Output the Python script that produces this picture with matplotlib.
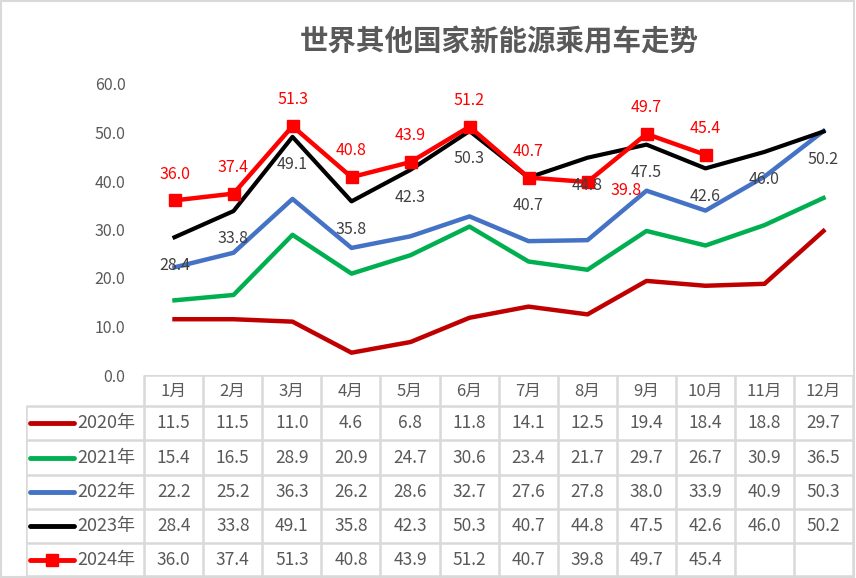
import matplotlib.pyplot as plt
import matplotlib.patches as mpatches
import numpy as np

plt.rcParams['font.family'] = ['Noto Sans CJK SC', 'DejaVu Sans']

# data
months = ["1月", "2月", "3月", "4月", "5月", "6月",
          "7月", "8月", "9月", "10月", "11月", "12月"]
years = ["2020年", "2021年", "2022年", "2023年", "2024年"]
v2020 = [11.5, 11.5, 11.0, 4.6, 6.8, 11.8, 14.1, 12.5, 19.4, 18.4, 18.8, 29.7]
v2021 = [15.4, 16.5, 28.9, 20.9, 24.7, 30.6, 23.4, 21.7, 29.7, 26.7, 30.9, 36.5]
v2022 = [22.2, 25.2, 36.3, 26.2, 28.6, 32.7, 27.6, 27.8, 38.0, 33.9, 40.9, 50.3]
v2023 = [28.4, 33.8, 49.1, 35.8, 42.3, 50.3, 40.7, 44.8, 47.5, 42.6, 46.0, 50.2]
v2024 = [36.0, 37.4, 51.3, 40.8, 43.9, 51.2, 40.7, 39.8, 49.7, 45.4, None, None]
series = [v2020, v2021, v2022, v2023, v2024]
colors = ["#C00000", "#00B050", "#4472C4", "#000000", "#FF0000"]
yticks = [0, 10, 20, 30, 40, 50, 60]

GRAY = "#595959"
GRID = "#D9D9D9"
W, H = 856, 578

fig = plt.figure(figsize=(W / 100, H / 100), dpi=100)


def fx(px):
    return px / W


def fy(py):
    return 1 - py / H


# border around the whole chart
fig.patches.append(mpatches.Rectangle((0.001, 0.001), 0.997, 0.997, transform=fig.transFigure,
                                      fill=False, edgecolor=GRID, linewidth=1.5))

fig.text(fx(499), fy(42), "世界其他国家新能源乘用车走势", ha="center", va="center",
         fontsize=20.5, fontweight="bold", color=GRAY)

# ---- line chart ----
ax = fig.add_axes([fx(145), fy(375), fx(853) - fx(145), fy(84) - fy(375)])
x = np.arange(len(months))
for vals, c, name in zip(series, colors, years):
    y = np.array([np.nan if v is None else v for v in vals])
    if name == "2024年":
        ax.plot(x, y, color=c, lw=3.2, marker="s", ms=9, zorder=5)
    elif name == "2023年":
        ax.plot(x, y, color=c, lw=3.0, zorder=4)
    else:
        ax.plot(x, y, color=c, lw=3.2, zorder=3)

ax.set_xlim(-0.5, len(months) - 0.5)
ax.set_ylim(0, 60)
ax.set_yticks(yticks)
ax.set_yticklabels([f"{t:.1f}" for t in yticks], color=GRAY, fontsize=11.5)
ax.tick_params(axis="y", length=0, pad=14)
ax.set_xticks([])
for s in ["top", "right", "left", "bottom"]:
    ax.spines[s].set_visible(False)
ax.patch.set_alpha(0)

# data labels: 2023 below, 2024 above
for i, v in enumerate(v2023):
    ax.annotate(f"{v:.1f}", (i, v), xytext=(0, -20), textcoords="offset points",
                ha="center", va="center", fontsize=11.5, color="#404040", zorder=6)
for i, v in enumerate(v2024):
    if v is None:
        continue
    off = (28, -6) if months[i] == "8月" else (0, 19)
    ax.annotate(f"{v:.1f}", (i, v), xytext=off, textcoords="offset points",
                ha="center", va="center", fontsize=11.5, color="#FF0000", zorder=7)

# ---- data table ----
tax = fig.add_axes([fx(26), 0, fx(853) - fx(26), fy(375)])
tax.set_xlim(-2.5, len(months) - 0.5)
tax.set_ylim(H, 375)
tax.axis("off")

row_edges = [406, 440, 475, 509, 543, 576]
lk = dict(color=GRID, lw=1.8, solid_capstyle="butt")
tax.plot([-0.5, len(months) - 0.5], [375, 375], **lk)
for ry in row_edges:
    tax.plot([-2.5, len(months) - 0.5], [ry, ry], **lk)
tax.plot([-2.5, -2.5], [406, 576], **lk)
for cx in np.arange(-0.5, len(months)):
    tax.plot([cx, cx], [375, 576], **lk)

for i, m in enumerate(months):
    tax.text(i, 391, m, ha="center", va="center", fontsize=12, color=GRAY)

for r, (vals, c, name) in enumerate(zip(series, colors, years)):
    yc = (row_edges[r] + row_edges[r + 1]) / 2
    tax.plot([-2.43, -1.68], [yc, yc], color=c, lw=3.5, solid_capstyle="round")
    if name == "2024年":
        tax.plot([-2.055], [yc], marker="s", ms=8, color=c)
    tax.text(-1.63, yc, name, ha="left", va="center", fontsize=13, color=GRAY)
    for i, v in enumerate(vals):
        if v is not None:
            tax.text(i, yc, f"{v:.1f}", ha="center", va="center", fontsize=12.5, color=GRAY)

fig.savefig("out.png", dpi=100)
